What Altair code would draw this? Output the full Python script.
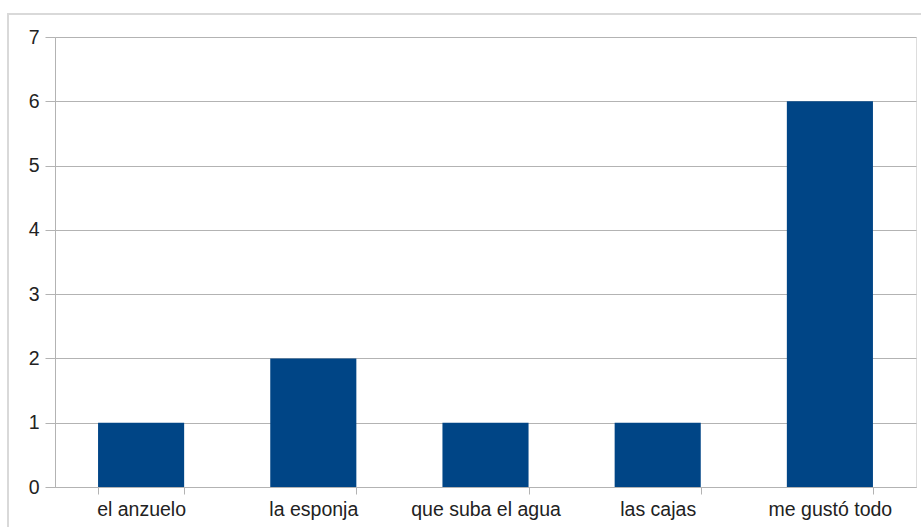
import altair as alt
import pandas as pd

categories = ["el anzuelo", "la esponja", "que suba el agua", "las cajas", "me gustó todo"]
values = [1, 2, 1, 1, 6]

df = pd.DataFrame({"cat": categories, "val": values})

GRID = "#b3b3b3"

frame = alt.Chart(pd.DataFrame({"a": [0]})).mark_rect(
    fill=None, stroke="#d9d9d9", strokeWidth=2, clip=False
).encode(
    x=alt.value(-47), x2=alt.value(880), y=alt.value(-23), y2=alt.value(520)
)

bars = alt.Chart(df).mark_bar(color="#004586").encode(
    x=alt.X("cat:N", sort=categories, title=None,
            scale=alt.Scale(paddingInner=0.5, paddingOuter=0.25),
            axis=alt.Axis(labelAngle=0, tickBand="extent", tickSize=7,
                          labelPadding=6, grid=False)),
    y=alt.Y("val:Q", title=None,
            scale=alt.Scale(domain=[0, 7], nice=False),
            axis=alt.Axis(values=list(range(8)), format="d",
                          labelPadding=6, tickSize=10)),
)

chart = alt.layer(frame, bars).properties(
    width=861, height=450,
    autosize=alt.AutoSizeParams(type="none"),
    padding={"left": 55, "top": 37, "right": 5, "bottom": 40},
).configure_view(stroke=GRID, strokeWidth=1).configure(
    background="white"
).configure_axis(
    labelFontSize=19.5, labelColor="#222222", labelFont="Liberation Sans",
    tickColor=GRID, domainColor=GRID, gridColor=GRID, gridOpacity=1,
)

chart.save("out.html", embed_options={"renderer": "svg", "actions": False})
